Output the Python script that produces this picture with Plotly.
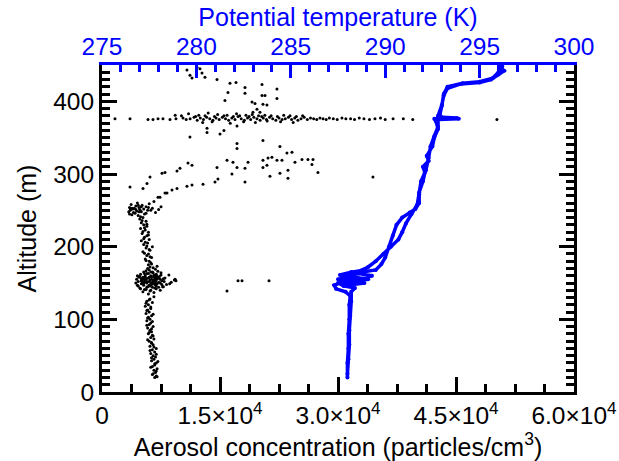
import plotly.graph_objects as go

# ---------------- Aerosol concentration (particles/cm^3) vs altitude (m) ----------------
col_low_alt = [20, 22, 25, 27, 30, 32, 35, 37, 40, 43, 45, 48, 50, 53, 55, 58, 60, 63, 65, 68,
               70, 73, 75, 78, 80, 83, 85, 88, 90, 93, 95, 98, 100, 103, 105, 108, 110, 113, 115, 118,
               120, 123, 125, 128]
col_low_conc = [6700, 6900, 6500, 6800, 6600, 7000, 6400, 6700, 6900, 6300, 6600, 6800, 6500, 6200, 6700, 6400, 6900, 6100, 6500, 6300,
                6000, 6600, 6200, 6400, 5900, 6300, 6100, 5800, 6500, 6000, 6200, 5700, 6100, 5900, 6300, 5600, 6000, 5800, 6200, 5500,
                5900, 6400, 5700, 6100]
col_low2_alt = [21, 24, 29, 34, 39, 42, 47, 52, 57, 62, 67, 72, 77, 82, 87, 92, 97, 102, 107, 112, 117, 122, 127, 131]
col_low2_conc = [7000, 6400, 6900, 6200, 6700, 7100, 6300, 6900, 6100, 6600, 6300, 5800, 6500, 6000, 6300, 5700, 6400, 5800, 6500, 5700,
                 6200, 5600, 6000, 6600]

blob_alt = [135, 137, 138, 140, 140, 141, 142, 143, 144, 145, 145, 146, 147, 148, 148, 149, 150, 150, 150, 151,
            151, 152, 152, 153, 153, 154, 154, 155, 155, 156, 156, 157, 157, 158, 158, 159, 160, 160, 161, 162,
            162, 163, 164, 165, 165, 166, 167, 168, 169, 170, 171, 172, 173, 175, 176, 178, 155, 150, 145, 160]
blob_conc = [5900, 6600, 5200, 6200, 7400, 5600, 6900, 4800, 6400, 5800, 7800, 6100, 5300, 6700, 8200, 5000, 4300, 5700, 6500, 7200,
             8800, 4600, 6000, 6800, 7600, 5400, 9200, 4400, 6300, 7000, 5100, 5900, 8000, 4700, 6600, 7300, 5500, 6200, 8500, 4900,
             6900, 5700, 7500, 5300, 6400, 7100, 5600, 6000, 6800, 5800, 6500, 6100, 7000, 5900, 6300, 6200, 9300, 5200, 7700, 4500]
blob2_alt = [139, 141, 143, 144, 146, 147, 149, 150, 151, 152, 153, 154, 155, 156, 157, 158, 159, 161, 163, 164,
             142, 144, 146, 148, 150, 152, 154, 156, 158, 160, 147, 149, 151, 153, 155, 157, 159, 161, 163, 165,
             148, 150, 152, 154, 156, 158, 150, 153, 156, 159]
blob2_conc = [6100, 5400, 6700, 7200, 4600, 6000, 7000, 5300, 6400, 7900, 5000, 6100, 7400, 5600, 6800, 5200, 6300, 6600, 5900, 6500,
              4900, 5700, 6900, 7600, 6200, 5100, 6600, 7800, 5500, 6900, 4500, 8600, 5400, 6800, 5600, 7200, 4800, 7500, 5400, 6200,
              6300, 6800, 5700, 6900, 5300, 6000, 7400, 6500, 5000, 7000]

col_mid_alt = [180, 183, 185, 188, 190, 193, 195, 198, 200, 203, 205, 208, 210, 213, 215, 218, 220, 223, 225, 228,
               230, 233, 235, 238, 240, 181, 186, 191, 196, 201, 206, 211, 216, 221, 226, 231, 236, 241]
col_mid_conc = [6000, 5500, 6300, 5700, 5900, 5200, 6100, 5600, 6400, 5300, 5800, 5000, 6000, 5400, 5700, 5100, 5900, 5500, 4900, 5700,
                5300, 5000, 5600, 4800, 5200, 5600, 6100, 5400, 6000, 5700, 5500, 5300, 5900, 5200, 5400, 5700, 5100, 4900]

blob250_alt = [243, 244, 245, 246, 247, 248, 248, 249, 250, 250, 251, 251, 252, 252, 253, 253, 254, 254, 255, 255,
               256, 257, 258, 259, 260, 262, 245, 247, 249, 251, 253, 255, 257, 246, 250, 254, 248, 252]
blob250_conc = [4600, 3800, 5400, 4200, 6800, 3400, 5000, 4400, 3600, 5800, 4800, 7200, 3900, 5300, 4100, 6400, 3500, 4700, 5600, 7500,
                4300, 5100, 3700, 6000, 4500, 6600, 3500, 4000, 4900, 4300, 3800, 5000, 4600, 5600, 6200, 5900, 4700, 3600]

scat_conc = [7118, 7372, 8007, 8260, 8900, 9530, 10800, 11440, 12840, 14360, 14740, 3560, 5210, 5720, 6100, 7630, 8010, 9530, 9910, 10930,
             11440, 14620, 15890, 16650, 17160, 18175, 18560, 16520, 18175, 20460, 21100, 21600, 22240, 20460, 20970, 21350, 22620, 22880, 23640, 23640,
             23510, 24150, 24530, 25420, 26180, 26820, 26690, 27450, 22620, 20460, 11180, 17160, 17160, 13350, 13350, 15000, 15500, 17160, 34440, 15890,
             17290, 17800, 21230, 9400]
scat_alt = [268, 268, 274, 274, 278, 280, 283, 285, 286, 289, 293, 282, 280, 287, 296, 301, 302, 304, 308, 315,
            312, 309, 319, 316, 309, 308, 316, 300, 289, 319, 322, 323, 319, 309, 312, 297, 301, 319, 305, 294,
            329, 330, 316, 320, 320, 320, 313, 302, 338, 346, 351, 335, 342, 357, 363, 355, 360, 366, 296, 139,
            153, 153, 153, 153]

band_conc = [1650, 3560, 5850, 6480, 7120, 7750, 8640, 9400, 10300, 10700, 11200, 11700, 12100, 12500, 12900, 13300, 13700, 14100,
             14500, 14900, 15300, 15700, 16100, 16500, 16900, 17300, 17700, 18100, 18500, 18900, 19300, 19700, 20100, 20500, 20900, 21300,
             21700, 22100, 22500, 22900, 23300, 23700, 24100, 24500, 24900, 25300, 25700, 26100, 26500, 26900, 27300, 27700, 28100, 28500,
             28900, 29400, 29900, 30500, 31000, 31600, 32100, 32700, 33300, 34000, 34700, 35400, 36000, 37000, 38300, 39500, 50200]
band_alt = [376, 376, 375, 375, 376, 376, 375, 376, 377, 375, 376, 378, 374, 377, 375, 378, 376, 374, 377, 375,
            378, 376, 374, 377, 375, 379, 376, 374, 377, 375, 378, 376, 374, 377, 375, 378, 376, 374, 377, 375,
            376, 378, 375, 377, 374, 376, 378, 375, 377, 376, 375, 377, 376, 375, 377, 376, 375, 377, 376, 376,
            375, 377, 376, 375, 376, 377, 375, 376, 376, 375, 375]
band2_conc = [9300, 10100, 11000, 11900, 12300, 13100, 13500, 14300, 14700, 15500, 15900, 16700, 17100, 17500, 18300, 18700, 19100,
              19900, 20300, 20700, 21500, 22300, 23100, 23900, 24700, 25500, 12800, 14000, 16300, 18000, 19500, 21000, 22700, 24300]
band2_alt = [381, 380, 383, 379, 381, 380, 384, 379, 382, 380, 381, 379, 383, 380, 381, 379, 382,
             380, 379, 381, 380, 379, 381, 380, 379, 380, 371, 372, 370, 372, 371, 373, 372, 371]

upper_conc = [10800, 11180, 11440, 12070, 12460, 12710, 13090, 14620, 16270, 17030, 16010, 18175, 18175, 20340, 20340, 20720,
              22240, 22240, 15630, 19070, 19450, 20460, 20970, 19700, 19190, 20080]
upper_alt = [443, 436, 432, 447, 445, 439, 433, 430, 425, 426, 412, 419, 411, 423, 408, 408,
             417, 404, 401, 399, 397, 396, 395, 389, 385, 385]

# ---------------- Potential temperature (K) vs altitude (m): ascent then descent ----------------
theta_k = [288.0, 288.0, 288.05, 288.05, 288.1, 288.1, 288.15, 287.9, 287.4, 287.3, 287.6, 288.3, 288.9, 288.2, 287.5, 287.9,
           288.8, 289.3, 288.6, 288.0, 288.9, 289.5, 289.8, 290.0, 290.2, 290.4, 290.6, 290.9, 291.3, 291.6, 291.8, 291.8,
           292.0, 292.1, 292.0, 292.3, 292.2, 292.5, 292.6, 292.8, 292.7, 292.6, 293.8, 293.0, 292.8, 292.9, 293.0, 293.1,
           293.3, 294.0, 295.0, 295.6, 296.0, 296.3, 296.1,
           296.2, 296.0, 295.7, 295.0, 294.1, 293.3, 293.1, 293.0, 292.9, 292.8, 293.9, 292.8, 292.8, 292.6, 292.4, 292.3,
           292.15, 291.9, 291.8, 291.7, 291.4, 291.1, 290.9, 290.7, 290.3, 289.9, 289.5, 289.1, 288.7, 288.2, 287.6, 288.4,
           289.1, 288.3, 287.5, 287.8, 288.4, 288.2, 288.2, 288.15, 288.1, 288.1, 288.05, 288.0]
theta_alt = [20, 40, 60, 80, 100, 120, 132, 138, 142, 147, 150, 148, 150, 153, 155, 158,
             156, 160, 163, 162, 166, 168, 176, 185, 200, 215, 230, 240, 247, 252, 260, 275,
             290, 302, 310, 318, 325, 338, 350, 362, 372, 376, 377, 378, 380, 386, 395, 408,
             418, 424, 426, 430, 437, 442, 447,
             448, 440, 432, 427, 425, 420, 410, 394, 382, 378, 376, 375, 365, 352, 338, 322,
             305, 290, 272, 258, 245, 232, 220, 210, 200, 190, 180, 172, 167, 165, 161, 158,
             155, 152, 150, 146, 143, 138, 125, 105, 85, 65, 45, 25]

# ---------------- Axis ticks ----------------
conc_tickvals = [0, 15000, 30000, 45000, 60000]
conc_ticktext = ["0", "1.5×10<sup>4</sup>", "3.0×10<sup>4</sup>", "4.5×10<sup>4</sup>", "6.0×10<sup>4</sup>"]
theta_tickvals = [275, 280, 285, 290, 295, 300]
alt_tickvals = [0, 100, 200, 300, 400]

aer_conc = (col_low_conc + col_low2_conc + blob_conc + blob2_conc + col_mid_conc + blob250_conc
            + scat_conc + band_conc + band2_conc + upper_conc)
aer_alt = (col_low_alt + col_low2_alt + blob_alt + blob2_alt + col_mid_alt + blob250_alt
           + scat_alt + band_alt + band2_alt + upper_alt)

BLUE = "#0000ff"
FONT = "Liberation Sans, Arial, Helvetica, sans-serif"
TICK_SIZE = 24.5
TITLE_SIZE = 25

fig = go.Figure()
fig.add_trace(go.Scatter(x=aer_conc, y=aer_alt, mode="markers",
                         marker=dict(color="black", size=3, line=dict(width=0)),
                         xaxis="x", yaxis="y", showlegend=False))
fig.add_trace(go.Scatter(x=theta_k, y=theta_alt, mode="lines+markers",
                         line=dict(color=BLUE, width=3.5),
                         marker=dict(color=BLUE, size=4),
                         xaxis="x2", yaxis="y", showlegend=False))

fig.update_layout(
    width=619, height=461,
    margin=dict(l=102, r=45, t=65, b=69, autoexpand=False),
    paper_bgcolor="white", plot_bgcolor="white",
    font=dict(family=FONT, size=TICK_SIZE, color="black"),
    xaxis=dict(
        range=[0, 60000], tickmode="array", tickvals=conc_tickvals, ticktext=conc_ticktext,
        ticks="inside", ticklen=15, tickwidth=2.5, tickcolor="black", automargin=False,
        showline=True, linewidth=3, linecolor="black", showgrid=False, zeroline=False,
        minor=dict(tickmode="linear", tick0=0, dtick=3750, ticks="inside", ticklen=8, tickwidth=2.5,
                   tickcolor="black", showgrid=False),
        tickfont=dict(size=TICK_SIZE, color="black"),
        title=dict(text="Aerosol concentration (particles/cm<sup>3</sup>)", font=dict(size=TITLE_SIZE), standoff=2),
    ),
    xaxis2=dict(
        range=[275, 300], overlaying="x", side="top", anchor="y", automargin=False,
        tickmode="array", tickvals=theta_tickvals, ticklabelstandoff=-3,
        ticks="inside", ticklen=13, tickwidth=2.5, tickcolor=BLUE,
        showline=True, linewidth=3, linecolor=BLUE, showgrid=False, zeroline=False,
        minor=dict(tickmode="linear", tick0=275, dtick=1, ticks="inside", ticklen=7, tickwidth=2.5,
                   tickcolor=BLUE, showgrid=False),
        tickfont=dict(size=TICK_SIZE, color=BLUE),
        title=dict(text="Potential temperature (K)", font=dict(size=TITLE_SIZE, color=BLUE), standoff=0),
    ),
    yaxis=dict(
        range=[0, 450], tickmode="array", tickvals=alt_tickvals, automargin=False,
        ticks="inside", ticklen=15, tickwidth=2.5, tickcolor="black",
        showline=True, linewidth=3, linecolor="black", mirror="ticks", showgrid=False, zeroline=False,
        minor=dict(tickmode="linear", tick0=0, dtick=10, ticks="inside", ticklen=8, tickwidth=2.5,
                   tickcolor="black", showgrid=False),
        tickfont=dict(size=TICK_SIZE, color="black"),
        title=dict(text="Altitude (m)", font=dict(size=TITLE_SIZE), standoff=10),
    ),
)

fig.write_html("out.html", config={"displayModeBar": False},
               post_script="document.body.style.margin='0px';")
